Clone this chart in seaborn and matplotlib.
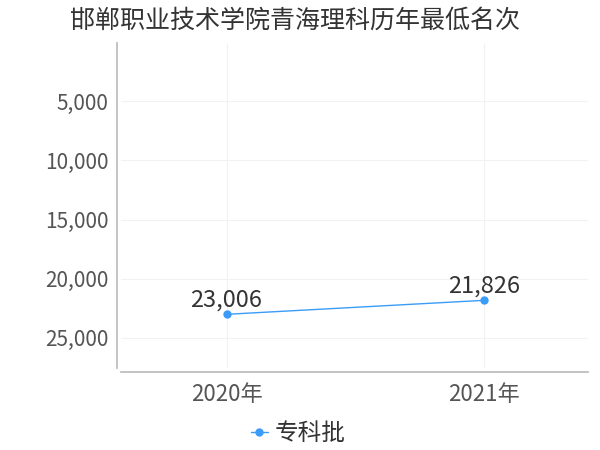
import matplotlib
matplotlib.use('Agg')
import pandas as pd
import seaborn as sns
from matplotlib import pyplot as plt
from matplotlib.ticker import FuncFormatter

years = ['2020年', '2021年']
ranks = [23006, 21826]
batch = '专科批'
title = '邯郸职业技术学院青海理科历年最低名次'

df = pd.DataFrame({'年份': years, '名次': ranks, '批次': batch})

sns.set_theme(style='white')
plt.rcParams['font.family'] = ['Noto Sans CJK SC', 'DejaVu Sans']

fig = plt.figure(figsize=(6, 4.5), dpi=100)
ax = fig.add_axes([0.2017, 0.182, 0.7783, 0.722])

line_color = '#3a9cf7'
sns.lineplot(data=df, x='年份', y='名次', hue='批次', palette=[line_color],
             marker='o', markersize=6, markeredgewidth=0, linewidth=1, ax=ax)

for i, v in enumerate(ranks):
    ax.annotate(f'{v:,}', (i, v), xytext=(0, 2), textcoords='offset points',
                ha='center', va='bottom', fontsize=17, color='#333333')

ax.set_xlim(-0.41, 1.405)
ax.set_ylim(27550, 100)
ax.set_yticks([5000, 10000, 15000, 20000, 25000])
ax.yaxis.set_major_formatter(FuncFormatter(lambda v, p: f'{int(v):,}'))
ax.grid(True, color='#f2f2f2', linewidth=0.8)
ax.set_xlabel('')
ax.set_ylabel('')
ax.tick_params(axis='both', colors='#555555', length=5, width=0.8)
ax.tick_params(axis='y', labelsize=15, length=0, pad=6)
ax.tick_params(axis='x', labelsize=16, colors='#bbbbbb', labelcolor='#555555', pad=3)

for s in ['top', 'right']:
    ax.spines[s].set_visible(False)
ax.spines['left'].set_color('#bbbbbb')
ax.spines['bottom'].set_color('#bbbbbb')
ax.spines['left'].set_position(('outward', 3))
ax.spines['bottom'].set_position(('outward', 3))

fig.suptitle(title, x=0.492, y=0.982, fontsize=18, color='#333333')

ax.legend(loc='upper center', bbox_to_anchor=(0.38, -0.1), frameon=False,
          fontsize=17, handlelength=0.7, handletextpad=0.3,
          labelcolor='#333333')

fig.savefig('out.png', dpi=100)
